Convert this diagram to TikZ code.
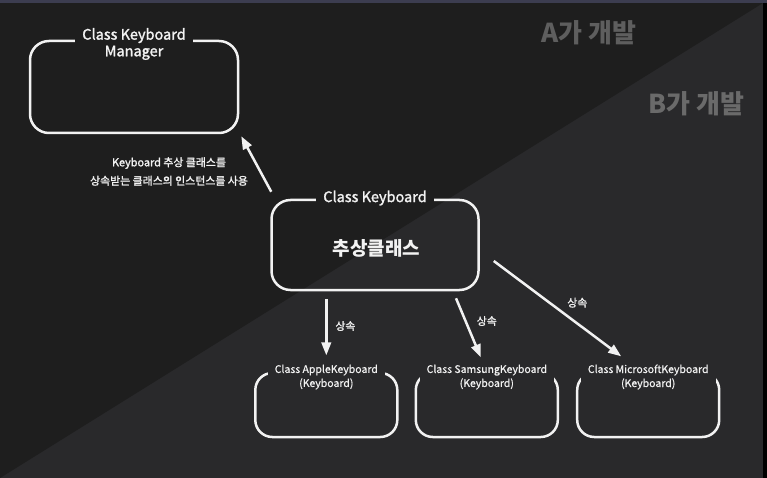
\documentclass[tikz,border=0pt]{standalone}
\usepackage{fontspec}
\setmainfont{Noto Sans CJK KR}
\newfontfamily\semib{Noto Sans CJK KR}[FakeBold=1.6]
\newfontfamily\lightb{Noto Sans CJK KR}[FakeBold=0.8]
\usetikzlibrary{arrows.meta,calc}
\definecolor{bgdark}{HTML}{1E1E1E}
\definecolor{bglight}{HTML}{29292B}
\definecolor{topstrip}{HTML}{3C3D50}
\definecolor{fg}{HTML}{F2F2F2}
\definecolor{devA}{HTML}{5E5E5E}
\definecolor{devB}{HTML}{6A6A6A}
\tikzset{
  box/.style={draw=fg, line width=2.5pt, rounded corners=#1, inner sep=0pt},
  box/.default=19pt,
  title/.style={text=fg, font=\semib\fontsize{14.5pt}{16.6pt}\selectfont, align=center, inner xsep=7pt, inner ysep=2pt},
  small/.style={text=fg, font=\lightb\fontsize{10.5pt}{14pt}\selectfont, align=center, inner xsep=7pt, inner ysep=2pt, fill=bglight},
  note/.style={text=fg, font=\semib\fontsize{10.9pt}{18.5pt}\selectfont, align=center},
  rel/.style={text=fg, font=\semib\fontsize{10.8pt}{13pt}\selectfont},
  dev/.style={font=\bfseries\fontsize{26pt}{30pt}\selectfont},
  arr/.style={draw=fg, line width=2.5pt, -{Triangle[length=13pt,width=9.5pt]}},
}
\begin{document}
\begin{tikzpicture}[x=1pt,y=-1pt]
\useasboundingbox (0,0) rectangle (767,478);
% background
\fill[bglight] (0,0) rectangle (767,478);
\fill[bgdark] (0,0) -- (763,0) -- (763,3) -- (0,478) -- cycle;
\fill[topstrip] (0,0) rectangle (767,3);
\fill[black] (763,3) rectangle (767,478);
% developer labels
\node[dev, text=devA] (devA) at (588.6,32.5) {A가 개발};
\node[dev, text=devB] (devB) at (696.2,103.5) {B가 개발};
% boxes
\node[box, minimum width=208pt, minimum height=92pt] (mgr) at (134,87) {};
\node[box, minimum width=207pt, minimum height=90pt] (kb) at (375,245) {};
\node[box=17pt, minimum width=142pt, minimum height=64pt] (apple) at (326.3,405) {};
\node[box=17pt, minimum width=142pt, minimum height=64pt] (samsung) at (486.8,405) {};
\node[box=17pt, minimum width=142pt, minimum height=64pt] (ms) at (648.2,405) {};
% box titles
\node[title, fill=bgdark] (mgrT) at (134,44) {Class Keyboard\\Manager};
\node[title, fill=bgdark] (kbT) at (375,198) {Class Keyboard};
\node[text=fg, font=\bfseries\fontsize{19pt}{22pt}\selectfont] (kbC) at (376.5,248) {추상클래스};
\node[small] (appleT) at (326.3,377) {Class AppleKeyboard\\(Keyboard)};
\node[small] (samsungT) at (486.8,377) {Class SamsungKeyboard\\(Keyboard)};
\node[small] (msT) at (648.2,377) {Class MicrosoftKeyboard\\(Keyboard)};
% note
\node[note] (note) at (169,171.5) {Keyboard 추상 클래스를\\상속받는 클래스의 인스턴스를 사용};
% arrow end points
\coordinate (uStart) at ($(kb.north west)+(1,-7)$);
\coordinate (uEnd) at ($(mgr.south east)+(2,2)$);
\coordinate (aStart) at ($(kb.south -| apple)+(0,8)$);
\coordinate (aEnd) at ($(appleT.north)+(0,-7)$);
\coordinate (sStart) at ($(kb.south)+(81,7)$);
\coordinate (sEnd) at ($(samsungT.north)+(-6,-5)$);
\coordinate (mStart) at ($(kb.east)+(14,16)$);
\coordinate (mEnd) at ($(msT.north)+(-27,-6)$);
% arrows
\draw[arr] (uStart) -- (uEnd);
\draw[arr] (aStart) -- (aEnd);
\draw[arr] (sStart) -- (sEnd);
\draw[arr] (mStart) -- (mEnd);
% relation labels
\node[rel] (r1) at (345.4,326) {상속};
\node[rel] (r2) at (486.8,321) {상속};
\node[rel] (r3) at (577.3,302.7) {상속};
\end{tikzpicture}
\end{document}
